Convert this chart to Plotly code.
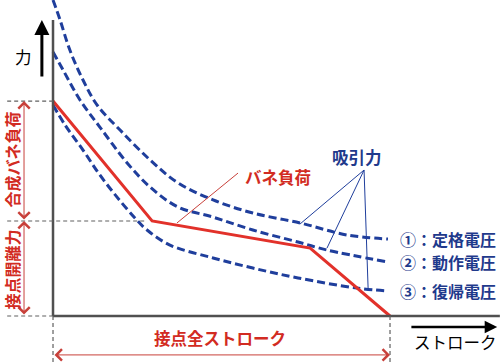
import plotly.graph_objects as go

# ---- data (stroke %, force in arbitrary units) ----
spring_stroke = [0, 29.4, 76.3, 100]
spring_force = [100, 44.2, 31.6, 0]

c1_stroke = [0, 2.1, 5.0, 8.9, 13.1, 19.9, 28.8, 37.1, 47.5, 59.3, 73.3, 87.2, 99.4]
c1_force = [147, 137.7, 123.7, 109.8, 98.1, 86.5, 72.6, 61.9, 54.0, 47.9, 43.3, 37.7, 35.8]

c2_stroke = [0, 3.0, 8.0, 13.9, 22.0, 28.8, 37.1, 47.5, 59.3, 72.7, 81.3, 99.4]
c2_force = [122.8, 114.4, 100.5, 87.9, 71.2, 60.0, 50.7, 46.0, 40.0, 34.4, 30.7, 25.1]

c3_stroke = [0, 3.6, 8.9, 13.9, 19.0, 24.3, 27.9, 34.7, 47.5, 59.3, 72.7, 90.2, 99.4]
c3_force = [98.1, 88.8, 77.2, 65.6, 55.3, 45.6, 40.0, 33.0, 27.0, 22.3, 17.7, 13.0, 11.6]

curve_labels = ["①：定格電圧", "②：動作電圧", "③：復帰電圧"]

RED = "#e2312a"
RED_T = "#d22b22"
RED_D = "#c8403a"
BLUE = "#1f3e9c"
BLUE_T = "#1f3a8c"
FONT = "Noto Sans CJK JP"

fig = go.Figure()
for xs, ys in [(c1_stroke, c1_force), (c2_stroke, c2_force), (c3_stroke, c3_force)]:
    fig.add_trace(go.Scatter(x=xs, y=ys, mode="lines", line_shape="spline",
                             line=dict(color=BLUE, width=3, dash="8px,4px"),
                             hoverinfo="skip", showlegend=False))
fig.add_trace(go.Scatter(x=spring_stroke, y=spring_force, mode="lines",
                         line=dict(color=RED, width=3), hoverinfo="skip", showlegend=False))

full = spring_stroke[-1]
knee_x, knee_y = spring_stroke[1], spring_force[1]
top = spring_force[0]
left = -13.6
bottom = -21.9

shapes = []
# axes
shapes.append(dict(type="line", x0=0, x1=0, y0=0, y1=137.7, line=dict(color="#505050", width=2.5)))
shapes.append(dict(type="line", x0=0, x1=132.6, y0=0, y1=0, line=dict(color="#505050", width=2.5)))
# guide dashed lines
g = dict(color="#606060", width=1.2, dash="4px,3px")
shapes.append(dict(type="line", x0=left, x1=0, y0=top, y1=top, line=g))
shapes.append(dict(type="line", x0=left, x1=knee_x - 1.5, y0=knee_y, y1=knee_y, line=g))
shapes.append(dict(type="line", x0=left, x1=0, y0=0, y1=0, line=g))
shapes.append(dict(type="line", x0=0, x1=0, y0=0, y1=bottom, line=g))
shapes.append(dict(type="line", x0=full, x1=full, y0=0, y1=bottom, line=g))
# leader lines
shapes.append(dict(type="line", x0=54.9, y0=66.5, x1=36.8, y1=43.3, line=dict(color=RED_D, width=1)))
for tx, ty in [(73.3, 42.8), (81.3, 31.6), (93.5, 13.0)]:
    shapes.append(dict(type="line", x0=92.3, y0=67.9, x1=tx, y1=ty, line=dict(color=BLUE, width=1)))

ann = []
def arrow(x0, y0, x1, y1, color, width, head, size, both=False):
    ann.append(dict(x=x1, y=y1, ax=x0, ay=y0, xref="x", yref="y", axref="x", ayref="y",
                    text="", showarrow=True, arrowhead=head, startarrowhead=head,
                    arrowsize=size, startarrowsize=size, arrowwidth=width, arrowcolor=color,
                    arrowside="end+start" if both else "end"))

# red dimension arrows
arrow(-8.6, knee_y, -8.6, top, RED_D, 1, 4, 2.2, both=True)
arrow(-8.6, 0, -8.6, knee_y, RED_D, 1, 4, 2.2, both=True)
arrow(0, -18.1, full, -18.1, RED_D, 1, 4, 2.2, both=True)
# black direction arrows
arrow(-3.3, 110.7, -3.3, 137.7, "black", 3, 2, 1.0)
arrow(105.9, -5.1, 131.8, -5.1, "black", 2.5, 2, 1.0)

def text(x, y, s, color, size=16.5, angle=0, xanchor="center", bold=True):
    ann.append(dict(x=x, y=y, xref="x", yref="y", text=f"<b>{s}</b>" if bold else s,
                    showarrow=False, textangle=angle, xanchor=xanchor, yanchor="middle",
                    font=dict(family=FONT, size=size, color=color)))

text(-8.9, 120.5, "力", "black", bold=False)
text(119.3, -12.1, "ストローク", "black", bold=False)
text(49.6, -10.2, "接点全ストローク", RED_T)
text(-12.3, 72.6, "合成バネ負荷", RED_T, size=16, angle=-90)
text(-12.3, 21.4, "接点開離力", RED_T, size=16, angle=-90)
text(66.8, 64.7, "バネ負荷", RED_T)
text(90.2, 74.0, "吸引力", BLUE_T)
for lbl, yy in zip(curve_labels, [c1_force[-1], c2_force[-1], c3_force[-1]]):
    text(102.4, yy, lbl, BLUE_T, size=16, xanchor="left")

fig.update_layout(
    width=503, height=363, margin=dict(l=0, r=0, t=0, b=0),
    paper_bgcolor="white", plot_bgcolor="white",
    xaxis=dict(range=[-15.73, 133.53], visible=False, fixedrange=True),
    yaxis=dict(range=[-21.86, 147.0], visible=False, fixedrange=True),
    shapes=shapes, annotations=ann, showlegend=False,
)
fig.write_html("out.html", config={"displayModeBar": False},
               post_script="document.body.style.margin='0';document.body.style.overflow='hidden';")
